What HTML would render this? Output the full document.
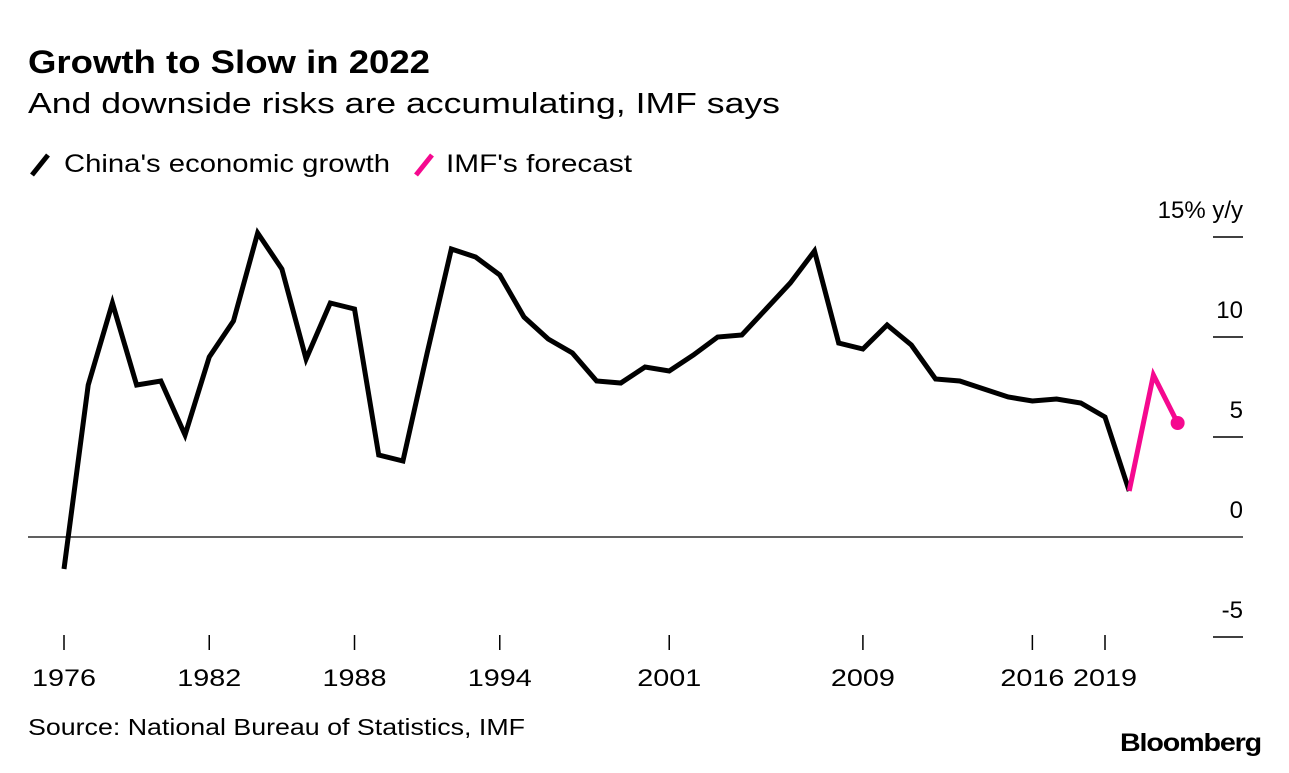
<!DOCTYPE html>
<html><head><meta charset="utf-8"><style>
body{margin:0;background:#fff;width:1289px;height:768px;overflow:hidden;font-family:"Liberation Sans",sans-serif}
</style></head><body>
<svg width="1289" height="768" font-family="Liberation Sans, sans-serif">
<text x="28" y="73" font-size="32" font-weight="bold" fill="#000" textLength="402" lengthAdjust="spacingAndGlyphs">Growth to Slow in 2022</text>
<text x="28" y="113" font-size="29" fill="#000" textLength="752" lengthAdjust="spacingAndGlyphs">And downside risks are accumulating, IMF says</text>
<g>
<line x1="32" y1="175" x2="48" y2="155" stroke="#000" stroke-width="5"/>
<text x="64" y="172" font-size="25" textLength="326" lengthAdjust="spacingAndGlyphs">China's economic growth</text>
<line x1="416" y1="175" x2="432" y2="155" stroke="#f5098f" stroke-width="5"/>
<text x="446" y="172" font-size="25" textLength="186" lengthAdjust="spacingAndGlyphs">IMF's forecast</text>
</g>
<g id="axes"></g>
<g id="series"></g>
<text x="28" y="735" font-size="23" textLength="497" lengthAdjust="spacingAndGlyphs">Source: National Bureau of Statistics, IMF</text>
<text x="1120" y="751" font-size="25" font-weight="bold" textLength="141" lengthAdjust="spacingAndGlyphs" letter-spacing="-1">Bloomberg</text>
</svg>
<script>
const years=[1976,1977,1978,1979,1980,1981,1982,1983,1984,1985,1986,1987,1988,1989,1990,1991,1992,1993,1994,1995,1996,1997,1998,1999,2000,2001,2002,2003,2004,2005,2006,2007,2008,2009,2010,2011,2012,2013,2014,2015,2016,2017,2018,2019,2020];
const growth=[-1.6,7.6,11.7,7.6,7.8,5.1,9.0,10.8,15.2,13.4,8.9,11.7,11.4,4.1,3.8,9.2,14.4,14.0,13.1,11.0,9.9,9.2,7.8,7.7,8.5,8.3,9.1,10.0,10.1,11.4,12.7,14.3,9.7,9.4,10.6,9.6,7.9,7.8,7.4,7.0,6.8,6.9,6.7,6.0,2.3];
const fYears=[2020,2021,2022];
const forecast=[2.3,8.1,5.7];
const xTicks=[1976,1982,1988,1994,2001,2009,2016,2019];
const yTicks=[-5,0,5,10,15];
const yLabels=["-5","0","5","10","15% y/y"];
const NS="http://www.w3.org/2000/svg";
const X=y=>64+(y-1976)*(1105-64)/43;
const Y=v=>537-v*20;
function mk(t,a,p){const e=document.createElementNS(NS,t);for(const k in a)e.setAttribute(k,a[k]);p.appendChild(e);return e;}
const ax=document.getElementById('axes'),se=document.getElementById('series');
yTicks.forEach((v,i)=>{
 const l=mk('line',{x1:v===0?28:1213,x2:1243,y1:Y(v),y2:Y(v),stroke:'#000','stroke-width':v===0?1.3:1.5},ax);
 
 
 const t=mk('text',{x:1243,y:Y(v)-19,'font-size':24,'text-anchor':'end'},ax);
 t.textContent=yLabels[i];
 
 
});
xTicks.forEach(y=>{
 const l=mk('line',{x1:X(y),x2:X(y),y1:635,y2:650,stroke:'#000','stroke-width':1.5},ax);
 
 
 const t=mk('text',{x:X(y),y:686,'font-size':24,'text-anchor':'middle',textLength:64,lengthAdjust:'spacingAndGlyphs'},ax);
 t.textContent=y;
 
 
});
const p1=mk('polyline',{points:years.map((y,i)=>X(y)+','+Y(growth[i])).join(' '),fill:'none',stroke:'#000','stroke-width':5,'stroke-linejoin':'miter'},se);


const p2=mk('polyline',{points:fYears.map((y,i)=>X(y)+','+Y(forecast[i])).join(' '),fill:'none',stroke:'#f5098f','stroke-width':5},se);


const c=mk('circle',{cx:X(fYears[2]),cy:Y(forecast[2]),r:7,fill:'#f5098f'},se);


</script>
</body></html>
